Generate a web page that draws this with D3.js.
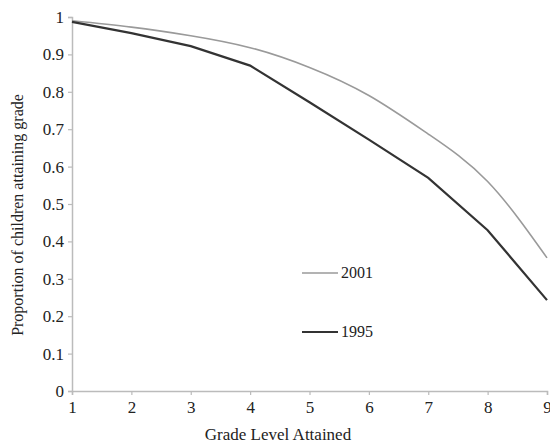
<!DOCTYPE html>
<html><head><meta charset="utf-8">
<script src="https://cdn.jsdelivr.net/npm/d3@7"></script>
<style>body{margin:0;background:#fff}svg{display:block}</style>
</head><body>
<svg id="c" width="550" height="443"></svg>
<script>
const grades = [1, 2, 3, 4, 5, 6, 7, 8, 9];
const values2001 = [0.99, 0.973, 0.95, 0.918, 0.865, 0.79, 0.687, 0.56, 0.356];
const values1995 = [0.987, 0.957, 0.922, 0.87, 0.772, 0.672, 0.57, 0.43, 0.243];
const yTicks = [0, 0.1, 0.2, 0.3, 0.4, 0.5, 0.6, 0.7, 0.8, 0.9, 1];
const seriesNames = ["2001", "1995"];

const svg = d3.select("#c");
const font = "'Liberation Serif', 'Times New Roman', serif";
const x = d3.scaleLinear().domain([1, 9]).range([72, 547]);
const y = d3.scaleLinear().domain([0, 1]).range([391, 17]);

const xAxis = svg.append("g").attr("transform", "translate(0,391)")
  .call(d3.axisBottom(x).tickValues(grades).tickSize(4).tickPadding(6).tickFormat(d3.format("d")));
const yAxis = svg.append("g").attr("transform", "translate(72,0)")
  .call(d3.axisLeft(y).tickValues(yTicks).tickSize(4).tickPadding(4).tickFormat(d => d === 0 || d === 1 ? String(d) : d3.format(".1f")(d)));
[xAxis, yAxis].forEach(a => {
  a.select(".domain").attr("stroke", "#bbb").attr("stroke-width", 1.5);
  a.selectAll(".tick line").attr("stroke", "#bbb").attr("stroke-width", 1.2);
  a.selectAll("text").attr("fill", "#222").style("font-family", font).style("font-size", "17px");
});

const line2001 = d3.line().x((d, i) => x(grades[i])).y(d => y(d)).curve(d3.curveNatural);
const line1995 = d3.line().x((d, i) => x(grades[i])).y(d => y(d));
svg.append("path").datum(values2001).attr("d", line2001).attr("fill", "none")
  .attr("stroke", "#9a9a9a").attr("stroke-width", 1.6);
svg.append("path").datum(values1995).attr("d", line1995).attr("fill", "none")
  .attr("stroke", "#333").attr("stroke-width", 2.2);

// legend
const leg = [{name: seriesNames[0], y: 273, c: "#9a9a9a", w: 1.6}, {name: seriesNames[1], y: 332, c: "#333", w: 2.2}];
leg.forEach(l => {
  svg.append("line").attr("x1", 302).attr("x2", 338).attr("y1", l.y).attr("y2", l.y)
    .attr("stroke", l.c).attr("stroke-width", l.w);
  svg.append("text").attr("x", 341).attr("y", l.y + 5).text(l.name)
    .attr("fill", "#222").style("font-family", font).style("font-size", "16px");
});

svg.append("text").attr("x", 278).attr("y", 440).attr("text-anchor", "middle")
  .text("Grade Level Attained").attr("fill", "#222")
  .style("font-family", font).style("font-size", "17px");
svg.append("text").attr("transform", "translate(23,215) rotate(-90)").attr("text-anchor", "middle")
  .text("Proportion of children attaining grade").attr("fill", "#222")
  .style("font-family", font).style("font-size", "16px");
</script>
</body></html>
